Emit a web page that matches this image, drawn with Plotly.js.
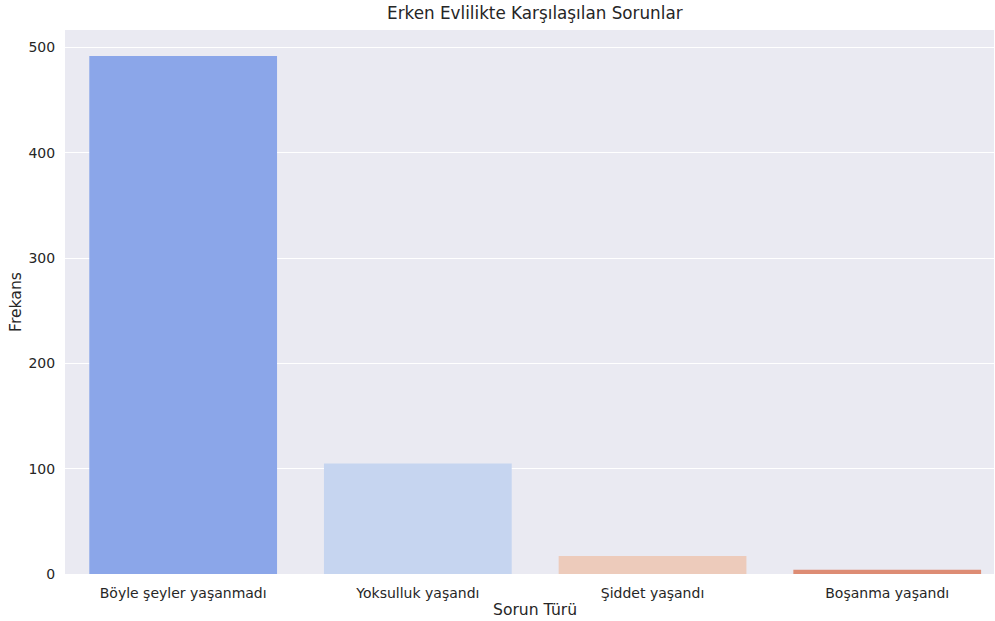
<!DOCTYPE html>
<html><head><meta charset="utf-8">
<script src="https://cdn.plot.ly/plotly-3.0.1.min.js"></script>
<style>html,body{margin:0;padding:0;background:#fff;}#chart{width:995px;height:621px;}</style>
</head><body><div id="chart"></div>
<script>
var categories = ["Böyle şeyler yaşanmadı", "Yoksulluk yaşandı", "Şiddet yaşandı", "Boşanma yaşandı"];
var frequencies = [492, 105, 17, 4];
var barColors = ["#8ba6e9", "#c6d5f0", "#edcbbb", "#dd8c74"];
var yTicks = [0, 100, 200, 300, 400, 500];

var font = "DejaVu Sans, sans-serif";
Plotly.newPlot("chart", [{
  type: "bar",
  x: categories,
  y: frequencies,
  marker: {color: barColors, line: {width: 0}},
  width: 0.8,
  hoverinfo: "x+y"
}], {
  width: 995, height: 621,
  margin: {l: 65, r: 1, t: 30, b: 47},
  paper_bgcolor: "#ffffff",
  plot_bgcolor: "#eaeaf2",
  font: {family: font, color: "#262626", size: 14},
  title: {text: "Erken Evlilikte Karşılaşılan Sorunlar", font: {size: 16.8, family: font, color: "#262626"}, x: 0.5375, xanchor: "center", y: 0.988, yanchor: "top"},
  xaxis: {
    range: [-0.5035, 3.455],
    showgrid: false, zeroline: false, showline: false,
    ticks: "outside", ticklen: 6, tickcolor: "rgba(0,0,0,0)", tickfont: {size: 14}
  },
  yaxis: {
    title: {text: "Frekans", font: {size: 15.6}, standoff: 3},
    range: [0, 516.6],
    tickvals: yTicks,
    ticktext: yTicks.map(String),
    showgrid: true, gridcolor: "#ffffff", gridwidth: 1.2,
    zeroline: false, showline: false,
    ticks: "outside", ticklen: 6, tickcolor: "rgba(0,0,0,0)", tickfont: {size: 14}
  },
  annotations: [{
    text: "Sorun Türü", xref: "paper", yref: "paper",
    x: 0.506, y: -0.066, xanchor: "center", yanchor: "middle",
    showarrow: false, font: {size: 15.6, family: font, color: "#262626"}
  }],
  bargap: 0.2,
  showlegend: false
}, {displayModeBar: false});
</script></body></html>
